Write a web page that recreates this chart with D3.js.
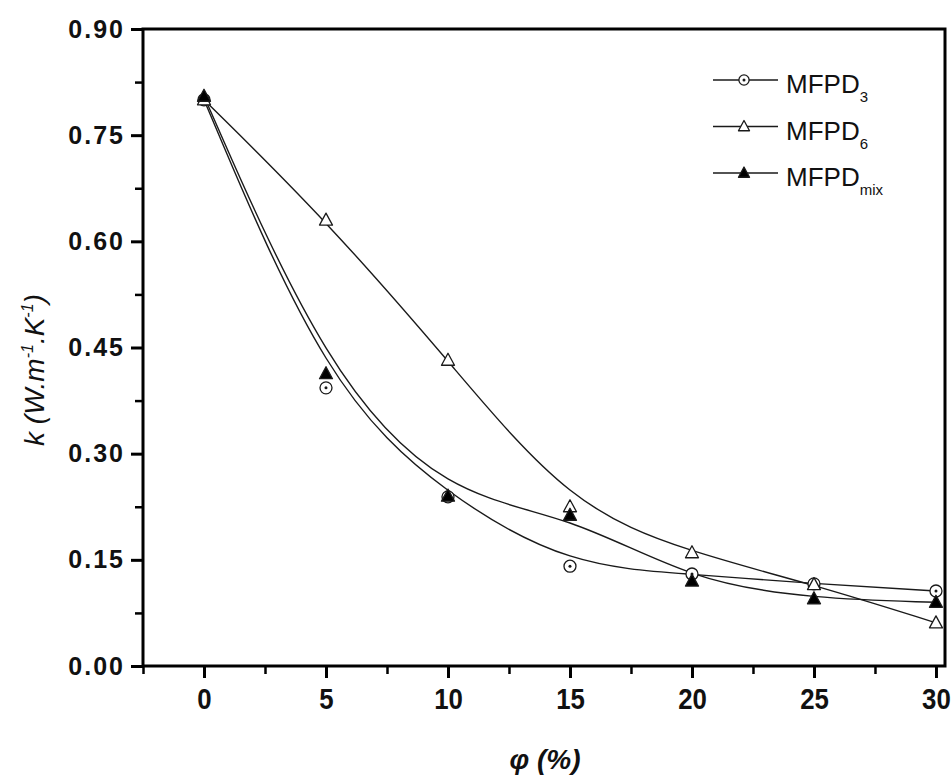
<!DOCTYPE html>
<html>
<head>
<meta charset="utf-8">
<script src="https://cdn.jsdelivr.net/npm/d3@7"></script>
<style>
  body { margin: 0; background: #fff; }
  svg { display: block; font-family: "Liberation Sans", Arial, sans-serif; }
</style>
</head>
<body>
<svg width="951" height="782"></svg>
<script>
// values
const phi = [0, 5, 10, 15, 20, 25, 30];
const mfpd3 = [0.800, 0.393, 0.239, 0.141, 0.130, 0.116, 0.106];
const mfpd6 = [0.800, 0.630, 0.432, 0.225, 0.160, 0.115, 0.061];
const mfpdMix = [0.805, 0.413, 0.240, 0.213, 0.120, 0.095, 0.090];

const xTicks = [0, 5, 10, 15, 20, 25, 30];
const xMinor = [-2.5, 2.5, 7.5, 12.5, 17.5, 22.5, 27.5];
const yTicks = [0, 0.15, 0.30, 0.45, 0.60, 0.75, 0.90];
const yMinor = [0.075, 0.225, 0.375, 0.525, 0.675, 0.825];

const series = [
  { name: 'MFPD', sub: '3', values: mfpd3, marker: 'circle' },
  { name: 'MFPD', sub: '6', values: mfpd6, marker: 'openTri' },
  { name: 'MFPD', sub: 'mix', values: mfpdMix, marker: 'fillTri' }
];

const pLeft = 143, pRight = 945, pTop = 29, pBottom = 666;
const ink = '#1a1a1a';

const svg = d3.select('svg');

const x = d3.scaleLinear().domain([-2.5, 30.37]).range([pLeft, pRight]);
const y = d3.scaleLinear().domain([0, 0.9]).range([pBottom, pTop]);

// frame
svg.append('rect')
  .attr('x', pLeft).attr('y', pTop)
  .attr('width', pRight - pLeft).attr('height', pBottom - pTop)
  .attr('fill', 'none').attr('stroke', '#000').attr('stroke-width', 3);

// major / minor ticks
function styleAxis(g, w) {
  g.select('.domain').remove();
  g.selectAll('.tick line').attr('stroke', '#000').attr('stroke-width', w);
}

svg.append('g')
  .attr('transform', `translate(0,${pBottom})`)
  .call(d3.axisBottom(x).tickValues(xTicks).tickSize(12).tickPadding(10).tickFormat(d3.format('d')))
  .call(g => styleAxis(g, 3))
  .call(g => g.selectAll('text')
    .attr('font-size', 30).attr('font-weight', 'bold').attr('fill', '#111')
    .attr('transform', 'scale(0.86,1)')
    .attr('font-family', '"Liberation Sans", Arial, sans-serif'));

svg.append('g')
  .attr('transform', `translate(0,${pBottom})`)
  .call(d3.axisBottom(x).tickValues(xMinor).tickSize(8).tickFormat(''))
  .call(g => styleAxis(g, 2.5));

svg.append('g')
  .attr('transform', `translate(${pLeft},0)`)
  .call(d3.axisLeft(y).tickValues(yTicks).tickSize(12).tickPadding(6).tickFormat(d3.format('.2f')))
  .call(g => styleAxis(g, 3))
  .call(g => g.selectAll('text')
    .attr('font-size', 25).attr('font-weight', 'bold').attr('fill', '#111')
    .attr('letter-spacing', 2)
    .attr('font-family', '"Liberation Sans", Arial, sans-serif'));

svg.append('g')
  .attr('transform', `translate(${pLeft},0)`)
  .call(d3.axisLeft(y).tickValues(yMinor).tickSize(8).tickFormat(''))
  .call(g => styleAxis(g, 2.5));

// axis titles
const yt = svg.append('text')
  .attr('transform', 'translate(44,370) rotate(-90)')
  .attr('text-anchor', 'middle')
  .attr('font-size', 28).attr('font-style', 'italic')
  .attr('fill', '#111');
yt.append('tspan').text('k (W.m');
yt.append('tspan').attr('font-size', 16).attr('dy', -11).text('-1');
yt.append('tspan').attr('dy', 11).text('.K');
yt.append('tspan').attr('font-size', 16).attr('dy', -11).text('-1');
yt.append('tspan').attr('dy', 11).text(')');

svg.append('text')
  .attr('x', 545).attr('y', 769)
  .attr('text-anchor', 'middle')
  .attr('font-size', 28).attr('font-weight', 'bold').attr('font-style', 'italic')
  .attr('fill', '#111')
  .text('φ (%)');

// markers
function drawMarker(g, type, k) {
  if (type === 'circle') {
    g.append('circle').attr('r', 6 * k).attr('fill', '#fff').attr('stroke', ink).attr('stroke-width', 1.3);
    g.append('circle').attr('r', 1.5).attr('fill', ink);
  } else {
    g.append('path')
      .attr('d', `M0,${-7 * k}L${6.5 * k},${5 * k}L${-6.5 * k},${5 * k}Z`)
      .attr('fill', type === 'fillTri' ? '#000' : '#fff')
      .attr('stroke', ink).attr('stroke-width', 1.3)
      .attr('stroke-linejoin', 'round');
  }
}

const line = d3.line()
  .x((d, i) => x(phi[i]))
  .y(d => y(d))
  .curve(d3.curveBasis);

const plot = svg.append('g');

series.forEach(s => {
  plot.append('path')
    .attr('d', line(s.values))
    .attr('fill', 'none').attr('stroke', ink).attr('stroke-width', 1.4);
});

series.forEach(s => {
  plot.selectAll(null)
    .data(s.values)
    .enter()
    .append('g')
    .attr('transform', (d, i) => `translate(${x(phi[i])},${y(d)})`)
    .each(function () { drawMarker(d3.select(this), s.marker, 1); });
});

// legend
const legend = svg.append('g');
series.forEach((s, i) => {
  const ly = 80 + i * 46.5;
  legend.append('line')
    .attr('x1', 713).attr('x2', 778).attr('y1', ly).attr('y2', ly)
    .attr('stroke', ink).attr('stroke-width', 1.4);
  drawMarker(legend.append('g').attr('transform', `translate(744,${ly})`), s.marker, 0.85);
  const t = legend.append('text')
    .attr('x', 786).attr('y', ly + 13)
    .attr('font-size', 26).attr('fill', '#111');
  t.append('tspan').text(s.name);
  t.append('tspan').attr('font-size', 15).attr('dy', 9).text(s.sub);
});
</script>
</body>
</html>
